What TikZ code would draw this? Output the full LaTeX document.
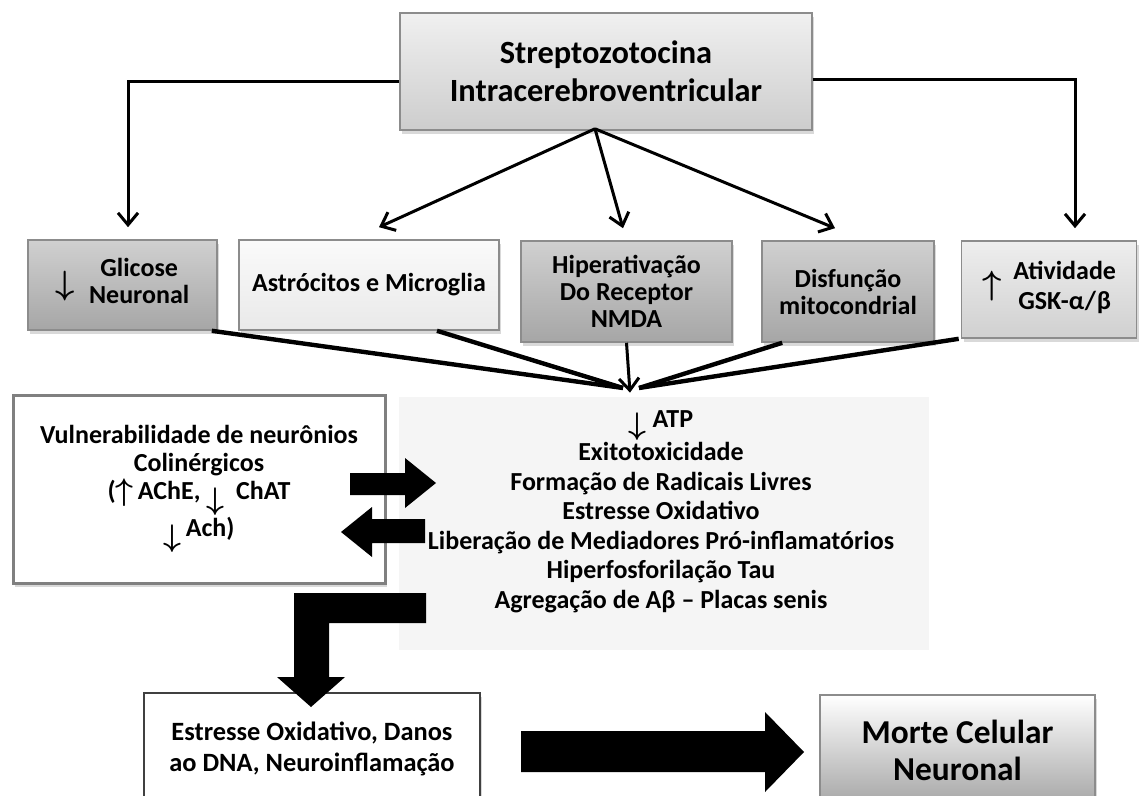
\documentclass[tikz,border=0pt]{standalone}
\usepackage{fontspec}
\usepackage{graphicx}
\setmainfont{Carlito}
\usetikzlibrary{arrows.meta,shadows,calc}
\definecolor{boxline}{HTML}{8C8C8C}
\definecolor{topA}{HTML}{F0F0F0}
\definecolor{topB}{HTML}{CDCDCD}
\definecolor{midA}{HTML}{D0D0D0}
\definecolor{midB}{HTML}{A6A6A6}
\definecolor{paleA}{HTML}{FAFAFA}
\definecolor{paleB}{HTML}{E9E9E9}
\definecolor{lightA}{HTML}{EEEEEE}
\definecolor{lightB}{HTML}{D0D0D0}
\definecolor{panelgrey}{HTML}{F5F5F5}

\begin{document}
\begin{tikzpicture}[x=0.5pt,y=-0.5pt]
    \tikzset{box/.style = {shape=rectangle,draw=boxline,line width=0.8pt,align=center,inner sep=0pt,
        drop shadow={shadow xshift=1.2pt,shadow yshift=-1.8pt,opacity=0.3}}}
    \tikzset{rowbox/.style = {box,font=\bfseries\fontsize{13}{13.5}\selectfont}}
    \tikzset{feed/.style = {line width=1.5pt,-{Straight Barb[length=6pt,width=10pt]}}}
    \tikzset{merge/.style = {line width=2.2pt}}
    \path[use as bounding box,clip] (0,0) rectangle (1139,796);

    % boxes
    \node[box,top color=topA,bottom color=topB,minimum width=206pt,minimum height=58.5pt,
        font=\bfseries\fontsize{16.2}{19}\selectfont] (strep) at (606,71.5) {Streptozotocina\\Intracerebroventricular};

    \node[rowbox,top color=midA,bottom color=midB,minimum width=94.5pt,minimum height=45pt] (glic) at (122.5,285)
        {\raisebox{-0.3ex}{\scalebox{1.4}{\boldmath$\downarrow$}}\hspace{7pt}\begin{tabular}{@{}c@{}}Glicose\\Neuronal\end{tabular}};
    \node[rowbox,top color=paleA,bottom color=paleB,minimum width=130pt,minimum height=45pt] (astro) at (369,285)
        {Astrócitos e Microglia};
    \node[rowbox,top color=midA,bottom color=midB,minimum width=105.5pt,minimum height=50.5pt] (nmda) at (626.5,291.5)
        {Hiperativação\\Do Receptor\\NMDA};
    \node[rowbox,top color=midA,bottom color=midB,minimum width=86pt,minimum height=50.5pt] (mito) at (848,291.5)
        {Disfunção\\mitocondrial};
    \node[rowbox,top color=lightA,bottom color=lightB,minimum width=87.5pt,minimum height=48.5pt] (gsk) at (1049,289.5)
        {\raisebox{0.1ex}{\scalebox{1.4}{\boldmath$\uparrow$}}\hspace{6pt}\begin{tabular}{@{}c@{}}Atividade\\[1.5pt]GSK-α\kern0.4pt/\kern0.4ptβ\end{tabular}};

    \node[fill=panelgrey,minimum width=265pt,minimum height=126.5pt] (panel) at (664,523.5) {};
    \node[align=center,font=\bfseries\fontsize{13}{14.75}\selectfont] (effects) at (661,511.5)
        {\raisebox{-0.6ex}{\scalebox{1.3}{\boldmath$\downarrow$}} ATP\\Exitotoxicidade\\Formação de Radicais Livres\\Estresse Oxidativo\\
         Liberação de Mediadores Pró-inflamatórios\\Hiperfosforilação Tau\\Agregação de Aβ – Placas senis};

    \node[box,fill=white,draw=gray,line width=1.5pt,minimum width=186pt,minimum height=94pt,
        font=\bfseries\fontsize{13}{14}\selectfont] (vuln) at (199,489)
        {Vulnerabilidade de neurônios\\Colinérgicos\\
         (\raisebox{-0.1ex}{\scalebox{1.3}{\boldmath$\uparrow$}}\,AChE, \raisebox{-0.8ex}{\scalebox{1.3}{\boldmath$\downarrow$}}\ \ ChAT\\
         \raisebox{-0.8ex}{\scalebox{1.3}{\boldmath$\downarrow$}}\,Ach)};

    \node[box,fill=white,draw=darkgray,line width=1.2pt,minimum width=168pt,minimum height=56pt,
        font=\bfseries\fontsize{13.2}{15.5}\selectfont] (dano) at (312,749)
        {Estresse Oxidativo, Danos\\ao DNA, Neuroinflamação};
    \node[box,top color=white,bottom color=midB,minimum width=137.5pt,minimum height=55pt,
        font=\bfseries\fontsize{16.7}{18.5}\selectfont] (morte) at (957.5,750) {Morte Celular\\Neuronal};

    % arrows from the top box
    \coordinate (strepOut) at ($(strep.south)+(-11,-2)$);
    \coordinate (glicIn) at ($(glic.north)+(5.5,-12)$);
    \coordinate (astroIn) at ($(astro.north)+(10,-12)$);
    \coordinate (nmdaIn) at ($(nmda.north)+(-3.5,-12)$);
    \coordinate (mitoIn) at ($(mito.north)+(-13,-12)$);
    \coordinate (gskIn) at ($(gsk.north)+(26,-12)$);
    \draw[feed] ($(strep.west)+(0,10)$) -| (glicIn);
    \draw[feed] ($(strep.east)+(0,8)$) -| (gskIn);
    \foreach \t in {astroIn,nmdaIn,mitoIn} {\draw[feed] (strepOut) to (\t);}

    % lines into the panel
    \coordinate (hubL) at (623,388);
    \coordinate (hubR) at (639,388);
    \coordinate (g) at ($(glic.south east)+(-6,0)$);
    \coordinate (a) at ($(astro.south)+(68,0)$);
    \coordinate (m) at ($(mito.south west)+(21,0)$);
    \coordinate (k) at ($(gsk.south west)+(-2,0)$);
    \foreach \s/\t in {g/hubL,a/hubL,m/hubR,k/hubR} {\draw[merge] (\s) to (\t);}
    \draw[feed] (nmda.south) to ($(panel.north)+(-34,-4)$);

    % block arrows
    \fill (350,473) -- (405,473) -- (405,458) -- (436,483) -- (405,508) -- (405,495) -- (350,495) -- cycle;
    \fill (425,519) -- (372,519) -- (372,507) -- (341,532) -- (372,557) -- (372,543) -- (425,543) -- cycle;
    \fill (426,593) -- (294,593) -- (294,677) -- (277,677) -- (311,707) -- (345,677) -- (329,677)
        -- (329,623) -- (426,623) -- cycle;
    \fill (521,731) -- (765,731) -- (765,712) -- (804,752) -- (765,792) -- (765,772) -- (521,772) -- cycle;
\end{tikzpicture}
\end{document}
